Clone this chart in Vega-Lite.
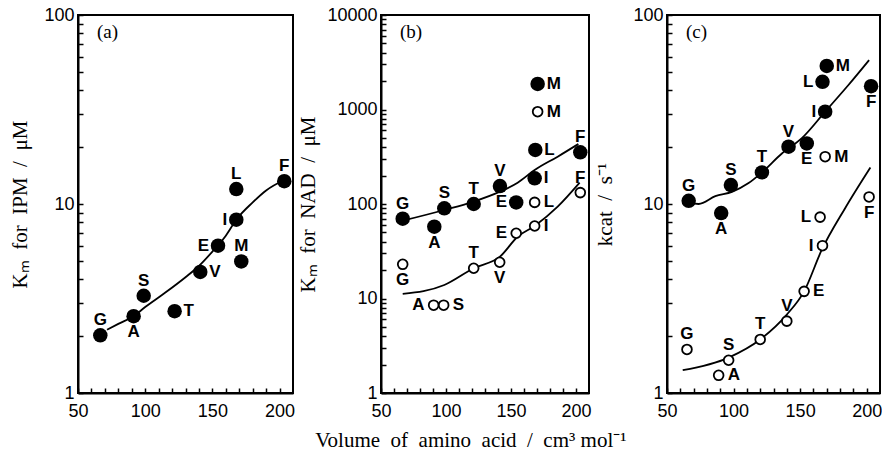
{
  "$schema": "https://vega.github.io/schema/vega-lite/v6.json",
  "padding": {"left": 8, "top": 5, "right": 0, "bottom": 0},
  "background": "white",
  "spacing": 0,
  "title": {"text": "Volume\u2002of\u2002amino\u2002acid\u2002/\u2002cm³ mol⁻¹", "orient": "bottom", "anchor": "middle", "frame": "bounds", "offset": 9, "dx": 25, "fontSize": 21},
  "config": {
    "view": {"stroke": "black", "strokeWidth": 2},
    "axis": {
      "domainColor": "black", "domainWidth": 2, "tickColor": "black", "tickWidth": 1.5, "tickSize": -5,
      "labelPadding": 9, "labelFont": "Liberation Sans", "labelFontSize": 18, "labelColor": "black",
      "titleFont": "Liberation Serif", "titleFontSize": 21, "titleFontWeight": "normal", "titleColor": "black",
      "grid": false, "labelOverlap": false, "labelFlush": false
    },
    "axisX": {"labelPadding": 14},
    "title": {"font": "Liberation Serif", "fontSize": 19, "fontWeight": "normal", "color": "black"}
  },
  "datasets": {
    "pts": [
      {"p": "a", "s": "f", "aa": "G", "v": 66.6, "y": 2.02, "side": "above"},
      {"p": "a", "s": "f", "aa": "A", "v": 91.4, "y": 2.55, "side": "below"},
      {"p": "a", "s": "f", "aa": "S", "v": 98.9, "y": 3.27, "side": "above"},
      {"p": "a", "s": "f", "aa": "T", "v": 121.9, "y": 2.71, "side": "right"},
      {"p": "a", "s": "f", "aa": "V", "v": 141.0, "y": 4.37, "side": "right"},
      {"p": "a", "s": "f", "aa": "E", "v": 154.2, "y": 6.02, "side": "left"},
      {"p": "a", "s": "f", "aa": "I", "v": 167.8, "y": 8.26, "side": "left"},
      {"p": "a", "s": "f", "aa": "L", "v": 167.8, "y": 12.0, "side": "above"},
      {"p": "a", "s": "f", "aa": "M", "v": 171.5, "y": 4.97, "side": "above"},
      {"p": "a", "s": "f", "aa": "F", "v": 203.5, "y": 13.2, "side": "above"},

      {"p": "b", "s": "f", "aa": "G", "v": 66.7, "y": 70, "side": "above"},
      {"p": "b", "s": "f", "aa": "A", "v": 91.0, "y": 57.5, "side": "below"},
      {"p": "b", "s": "f", "aa": "S", "v": 98.7, "y": 90, "side": "above"},
      {"p": "b", "s": "f", "aa": "T", "v": 121.3, "y": 100, "side": "above"},
      {"p": "b", "s": "f", "aa": "V", "v": 141.5, "y": 155, "side": "above"},
      {"p": "b", "s": "f", "aa": "E", "v": 154.0, "y": 104, "side": "left"},
      {"p": "b", "s": "f", "aa": "I", "v": 168.2, "y": 187, "side": "right"},
      {"p": "b", "s": "f", "aa": "L", "v": 168.7, "y": 373, "side": "right"},
      {"p": "b", "s": "f", "aa": "M", "v": 170.5, "y": 1862, "side": "right"},
      {"p": "b", "s": "f", "aa": "F", "v": 203.3, "y": 352, "side": "above"},
      {"p": "b", "s": "o", "aa": "G", "v": 66.7, "y": 23, "side": "below"},
      {"p": "b", "s": "o", "aa": "A", "v": 90.5, "y": 8.5, "side": "left"},
      {"p": "b", "s": "o", "aa": "S", "v": 98.2, "y": 8.5, "side": "right"},
      {"p": "b", "s": "o", "aa": "T", "v": 121.3, "y": 20.9, "side": "above"},
      {"p": "b", "s": "o", "aa": "V", "v": 141.3, "y": 24.2, "side": "below"},
      {"p": "b", "s": "o", "aa": "E", "v": 154.0, "y": 49, "side": "left"},
      {"p": "b", "s": "o", "aa": "I", "v": 168.2, "y": 58.5, "side": "right"},
      {"p": "b", "s": "o", "aa": "L", "v": 168.2, "y": 104, "side": "right"},
      {"p": "b", "s": "o", "aa": "M", "v": 170.5, "y": 948, "side": "right"},
      {"p": "b", "s": "o", "aa": "F", "v": 203.3, "y": 132, "side": "above"},

      {"p": "c", "s": "f", "aa": "G", "v": 66.3, "y": 10.4, "side": "above"},
      {"p": "c", "s": "f", "aa": "A", "v": 90.7, "y": 8.95, "side": "below"},
      {"p": "c", "s": "f", "aa": "S", "v": 98.0, "y": 12.6, "side": "above"},
      {"p": "c", "s": "f", "aa": "T", "v": 121.3, "y": 14.7, "side": "above"},
      {"p": "c", "s": "f", "aa": "V", "v": 141.3, "y": 20.1, "side": "above"},
      {"p": "c", "s": "f", "aa": "E", "v": 155.0, "y": 20.9, "side": "below"},
      {"p": "c", "s": "f", "aa": "I", "v": 168.8, "y": 30.8, "side": "left"},
      {"p": "c", "s": "f", "aa": "L", "v": 166.8, "y": 44.3, "side": "left"},
      {"p": "c", "s": "f", "aa": "M", "v": 170.0, "y": 53.8, "side": "right"},
      {"p": "c", "s": "f", "aa": "F", "v": 203.3, "y": 42, "side": "below"},
      {"p": "c", "s": "o", "aa": "G", "v": 65.0, "y": 1.70, "side": "above"},
      {"p": "c", "s": "o", "aa": "A", "v": 88.8, "y": 1.24, "side": "right"},
      {"p": "c", "s": "o", "aa": "S", "v": 96.3, "y": 1.49, "side": "above"},
      {"p": "c", "s": "o", "aa": "T", "v": 120.0, "y": 1.92, "side": "above"},
      {"p": "c", "s": "o", "aa": "V", "v": 140.0, "y": 2.40, "side": "above"},
      {"p": "c", "s": "o", "aa": "E", "v": 153.0, "y": 3.45, "side": "right"},
      {"p": "c", "s": "o", "aa": "I", "v": 166.8, "y": 6.02, "side": "left"},
      {"p": "c", "s": "o", "aa": "L", "v": 165.0, "y": 8.52, "side": "left"},
      {"p": "c", "s": "o", "aa": "M", "v": 168.8, "y": 17.8, "side": "right"},
      {"p": "c", "s": "o", "aa": "F", "v": 201.8, "y": 10.9, "side": "below"}
    ],
    "curves": [
      {"p": "a", "s": "f", "v": 71.6, "y": 2.16},
      {"p": "a", "s": "f", "v": 80, "y": 2.32},
      {"p": "a", "s": "f", "v": 91.4, "y": 2.55},
      {"p": "a", "s": "f", "v": 100, "y": 2.85},
      {"p": "a", "s": "f", "v": 115, "y": 3.4},
      {"p": "a", "s": "f", "v": 130, "y": 4.1},
      {"p": "a", "s": "f", "v": 140, "y": 4.7},
      {"p": "a", "s": "f", "v": 150, "y": 5.6},
      {"p": "a", "s": "f", "v": 160, "y": 6.8},
      {"p": "a", "s": "f", "v": 168, "y": 8.3},
      {"p": "a", "s": "f", "v": 180, "y": 10.2},
      {"p": "a", "s": "f", "v": 190, "y": 11.8},
      {"p": "a", "s": "f", "v": 203.5, "y": 13.4},

      {"p": "b", "s": "f", "v": 66.7, "y": 66.6},
      {"p": "b", "s": "f", "v": 98.7, "y": 86.4},
      {"p": "b", "s": "f", "v": 121.3, "y": 106},
      {"p": "b", "s": "f", "v": 141.5, "y": 135},
      {"p": "b", "s": "f", "v": 155.1, "y": 168},
      {"p": "b", "s": "f", "v": 168.2, "y": 229},
      {"p": "b", "s": "f", "v": 185.9, "y": 317},
      {"p": "b", "s": "f", "v": 201.8, "y": 431},
      {"p": "b", "s": "o", "v": 66.7, "y": 11.2},
      {"p": "b", "s": "o", "v": 98.7, "y": 13.9},
      {"p": "b", "s": "o", "v": 121.3, "y": 20.9},
      {"p": "b", "s": "o", "v": 141.5, "y": 27.7},
      {"p": "b", "s": "o", "v": 155.1, "y": 45},
      {"p": "b", "s": "o", "v": 168.2, "y": 58.5},
      {"p": "b", "s": "o", "v": 185.9, "y": 93.6},
      {"p": "b", "s": "o", "v": 202.8, "y": 168},

      {"p": "c", "s": "f", "v": 66.7, "y": 10.1},
      {"p": "c", "s": "f", "v": 73.8, "y": 10.0},
      {"p": "c", "s": "f", "v": 86.3, "y": 11.0},
      {"p": "c", "s": "f", "v": 98.8, "y": 11.6},
      {"p": "c", "s": "f", "v": 111.3, "y": 12.9},
      {"p": "c", "s": "f", "v": 121.3, "y": 14.7},
      {"p": "c", "s": "f", "v": 136.3, "y": 18.5},
      {"p": "c", "s": "f", "v": 151.3, "y": 22.3},
      {"p": "c", "s": "f", "v": 168.8, "y": 30.8},
      {"p": "c", "s": "f", "v": 186.3, "y": 42.6},
      {"p": "c", "s": "f", "v": 201.8, "y": 57.7},
      {"p": "c", "s": "o", "v": 61.8, "y": 1.32},
      {"p": "c", "s": "o", "v": 96.3, "y": 1.54},
      {"p": "c", "s": "o", "v": 120.0, "y": 1.92},
      {"p": "c", "s": "o", "v": 140.0, "y": 2.6},
      {"p": "c", "s": "o", "v": 153.0, "y": 3.45},
      {"p": "c", "s": "o", "v": 166.3, "y": 5.73},
      {"p": "c", "s": "o", "v": 183.8, "y": 9.5},
      {"p": "c", "s": "o", "v": 202.8, "y": 15.6}
    ]
  },
  "hconcat": [
    {
      "width": 215, "height": 378,
      "title": {"text": "(a)", "anchor": "start", "frame": "group", "offset": -26, "dy": 10, "dx": 19},
      "encoding": {
        "x": {"field": "v", "type": "quantitative", "scale": {"domain": [50, 210], "nice": false, "zero": false},
              "axis": {"values": [50, 60, 70, 80, 90, 100, 110, 120, 130, 140, 150, 160, 170, 180, 190, 200], "labelExpr": "datum.value % 50 === 0 ? datum.label : ''", "title": null}},
        "y": {"field": "y", "type": "quantitative", "scale": {"type": "log", "domain": [1, 100], "nice": false},
              "axis": {"values": [1, 2, 3, 4, 5, 6, 7, 8, 9, 10, 20, 30, 40, 50, 60, 70, 80, 90, 100], "format": "d",
                       "labelExpr": "indexof(['1','10','100','1000','10000'], datum.label) >= 0 ? datum.label : ''",
                       "title": "Kₘ\u2002for\u2002IPM\u2002/\u2002μM", "titlePadding": 13}}
      },
      "layer": [
        {"data": {"name": "curves"}, "transform": [{"filter": "datum.p === 'a'"}],
         "mark": {"type": "line", "interpolate": "monotone", "color": "black", "strokeWidth": 1.8},
         "encoding": {"detail": {"field": "s"}, "order": {"field": "v"}}},
        {"data": {"name": "pts"}, "transform": [{"filter": "datum.p === 'a' && datum.s === 'f'"}],
         "mark": {"type": "point", "shape": "circle", "filled": true, "color": "black", "size": 210, "opacity": 1}},
        {"data": {"name": "pts"}, "transform": [{"filter": "datum.p === 'a' && datum.side === 'above'"}],
         "mark": {"type": "text", "font": "Liberation Sans", "fontWeight": "bold", "fontSize": 17, "dy": -15, "color": "black"},
         "encoding": {"text": {"field": "aa"}}},
        {"data": {"name": "pts"}, "transform": [{"filter": "datum.p === 'a' && datum.side === 'below'"}],
         "mark": {"type": "text", "font": "Liberation Sans", "fontWeight": "bold", "fontSize": 17, "dy": 16, "color": "black"},
         "encoding": {"text": {"field": "aa"}}},
        {"data": {"name": "pts"}, "transform": [{"filter": "datum.p === 'a' && datum.side === 'left'"}],
         "mark": {"type": "text", "font": "Liberation Sans", "fontWeight": "bold", "fontSize": 17, "dx": -9, "align": "right", "color": "black"},
         "encoding": {"text": {"field": "aa"}}},
        {"data": {"name": "pts"}, "transform": [{"filter": "datum.p === 'a' && datum.side === 'right'"}],
         "mark": {"type": "text", "font": "Liberation Sans", "fontWeight": "bold", "fontSize": 17, "dx": 9, "align": "left", "color": "black"},
         "encoding": {"text": {"field": "aa"}}}
      ]
    },
    {
      "width": 208, "height": 378,
      "title": {"text": "(b)", "anchor": "start", "frame": "group", "offset": -26, "dy": 10, "dx": 19},
      "encoding": {
        "x": {"field": "v", "type": "quantitative", "scale": {"domain": [50, 210], "nice": false, "zero": false},
              "axis": {"values": [50, 60, 70, 80, 90, 100, 110, 120, 130, 140, 150, 160, 170, 180, 190, 200], "labelExpr": "datum.value % 50 === 0 ? datum.label : ''", "title": null}},
        "y": {"field": "y", "type": "quantitative", "scale": {"type": "log", "domain": [1, 10000], "nice": false},
              "axis": {"values": [1, 2, 3, 4, 5, 6, 7, 8, 9, 10, 20, 30, 40, 50, 60, 70, 80, 90, 100, 200, 300, 400, 500, 600, 700, 800, 900, 1000, 2000, 3000, 4000, 5000, 6000, 7000, 8000, 9000, 10000], "format": "d",
                       "labelExpr": "indexof(['1','10','100','1000','10000'], datum.label) >= 0 ? datum.label : ''",
                       "title": "Kₘ\u2002for\u2002NAD\u2002/\u2002μM", "titlePadding": 8}}
      },
      "layer": [
        {"data": {"name": "curves"}, "transform": [{"filter": "datum.p === 'b'"}],
         "mark": {"type": "line", "interpolate": "monotone", "color": "black", "strokeWidth": 1.8},
         "encoding": {"detail": {"field": "s"}, "order": {"field": "v"}}},
        {"data": {"name": "pts"}, "transform": [{"filter": "datum.p === 'b' && datum.s === 'f'"}],
         "mark": {"type": "point", "shape": "circle", "filled": true, "color": "black", "size": 210, "opacity": 1}},
        {"data": {"name": "pts"}, "transform": [{"filter": "datum.p === 'b' && datum.s === 'o'"}],
         "mark": {"type": "point", "shape": "circle", "filled": false, "fill": "white", "fillOpacity": 1, "stroke": "black", "strokeWidth": 1.8, "size": 95, "opacity": 1}},
        {"data": {"name": "pts"}, "transform": [{"filter": "datum.p === 'b' && datum.side === 'above'"}],
         "mark": {"type": "text", "font": "Liberation Sans", "fontWeight": "bold", "fontSize": 17, "dy": -15, "color": "black"},
         "encoding": {"text": {"field": "aa"}}},
        {"data": {"name": "pts"}, "transform": [{"filter": "datum.p === 'b' && datum.side === 'below'"}],
         "mark": {"type": "text", "font": "Liberation Sans", "fontWeight": "bold", "fontSize": 17, "dy": 16, "color": "black"},
         "encoding": {"text": {"field": "aa"}}},
        {"data": {"name": "pts"}, "transform": [{"filter": "datum.p === 'b' && datum.side === 'left'"}],
         "mark": {"type": "text", "font": "Liberation Sans", "fontWeight": "bold", "fontSize": 17, "dx": -9, "align": "right", "color": "black"},
         "encoding": {"text": {"field": "aa"}}},
        {"data": {"name": "pts"}, "transform": [{"filter": "datum.p === 'b' && datum.side === 'right'"}],
         "mark": {"type": "text", "font": "Liberation Sans", "fontWeight": "bold", "fontSize": 17, "dx": 9, "align": "left", "color": "black"},
         "encoding": {"text": {"field": "aa"}}}
      ]
    },
    {
      "width": 213, "height": 378,
      "title": {"text": "(c)", "anchor": "start", "frame": "group", "offset": -26, "dy": 10, "dx": 19},
      "encoding": {
        "x": {"field": "v", "type": "quantitative", "scale": {"domain": [50, 210], "nice": false, "zero": false},
              "axis": {"values": [50, 60, 70, 80, 90, 100, 110, 120, 130, 140, 150, 160, 170, 180, 190, 200], "labelExpr": "datum.value % 50 === 0 ? datum.label : ''", "title": null}},
        "y": {"field": "y", "type": "quantitative", "scale": {"type": "log", "domain": [1, 100], "nice": false},
              "axis": {"values": [1, 2, 3, 4, 5, 6, 7, 8, 9, 10, 20, 30, 40, 50, 60, 70, 80, 90, 100], "format": "d",
                       "labelExpr": "indexof(['1','10','100','1000','10000'], datum.label) >= 0 ? datum.label : ''",
                       "title": "kcat\u2002/\u2002s⁻¹", "titlePadding": 17}}
      },
      "layer": [
        {"data": {"name": "curves"}, "transform": [{"filter": "datum.p === 'c'"}],
         "mark": {"type": "line", "interpolate": "monotone", "color": "black", "strokeWidth": 1.8},
         "encoding": {"detail": {"field": "s"}, "order": {"field": "v"}}},
        {"data": {"name": "pts"}, "transform": [{"filter": "datum.p === 'c' && datum.s === 'f'"}],
         "mark": {"type": "point", "shape": "circle", "filled": true, "color": "black", "size": 210, "opacity": 1}},
        {"data": {"name": "pts"}, "transform": [{"filter": "datum.p === 'c' && datum.s === 'o'"}],
         "mark": {"type": "point", "shape": "circle", "filled": false, "fill": "white", "fillOpacity": 1, "stroke": "black", "strokeWidth": 1.8, "size": 95, "opacity": 1}},
        {"data": {"name": "pts"}, "transform": [{"filter": "datum.p === 'c' && datum.side === 'above'"}],
         "mark": {"type": "text", "font": "Liberation Sans", "fontWeight": "bold", "fontSize": 17, "dy": -15, "color": "black"},
         "encoding": {"text": {"field": "aa"}}},
        {"data": {"name": "pts"}, "transform": [{"filter": "datum.p === 'c' && datum.side === 'below'"}],
         "mark": {"type": "text", "font": "Liberation Sans", "fontWeight": "bold", "fontSize": 17, "dy": 16, "color": "black"},
         "encoding": {"text": {"field": "aa"}}},
        {"data": {"name": "pts"}, "transform": [{"filter": "datum.p === 'c' && datum.side === 'left'"}],
         "mark": {"type": "text", "font": "Liberation Sans", "fontWeight": "bold", "fontSize": 17, "dx": -9, "align": "right", "color": "black"},
         "encoding": {"text": {"field": "aa"}}},
        {"data": {"name": "pts"}, "transform": [{"filter": "datum.p === 'c' && datum.side === 'right'"}],
         "mark": {"type": "text", "font": "Liberation Sans", "fontWeight": "bold", "fontSize": 17, "dx": 9, "align": "left", "color": "black"},
         "encoding": {"text": {"field": "aa"}}}
      ]
    }
  ]
}
